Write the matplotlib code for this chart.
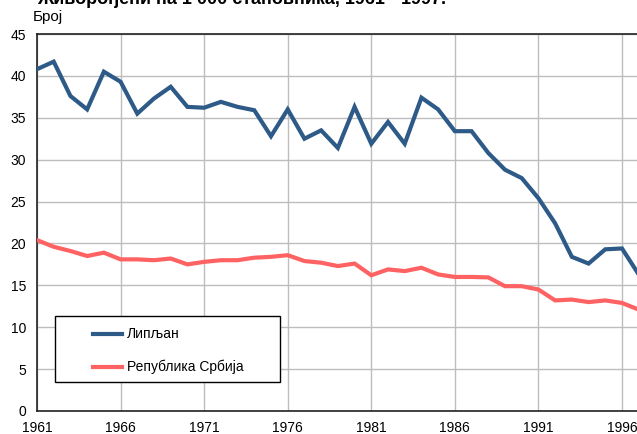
import matplotlib
matplotlib.use("Agg")
import matplotlib.pyplot as plt
from matplotlib.patches import Rectangle
from matplotlib.lines import Line2D

# ── DATA ──────────────────────────────────────────────────────────────────────
years = list(range(1961, 1998))
lipljan = [40.8, 41.7, 37.6, 36.0, 40.5, 39.3, 35.5, 37.3, 38.7, 36.3,
           36.2, 36.9, 36.3, 35.9, 32.8, 36.0, 32.5, 33.5, 31.4, 36.3,
           31.9, 34.5, 31.9, 37.4, 36.0, 33.4, 33.4, 30.8, 28.8, 27.8,
           25.4, 22.4, 18.4, 17.6, 19.3, 19.4, 16.3]
srbija = [20.4, 19.6, 19.1, 18.5, 18.9, 18.1, 18.1, 18.0, 18.2, 17.5,
          17.8, 18.0, 18.0, 18.3, 18.4, 18.6, 17.9, 17.7, 17.3, 17.6,
          16.2, 16.9, 16.7, 17.1, 16.3, 16.0, 16.0, 15.95, 14.9, 14.9,
          14.5, 13.2, 13.3, 13.0, 13.2, 12.9, 12.1]
series_names = ["Липљан", "Република Србија"]
x_ticks = [1961, 1966, 1971, 1976, 1981, 1986, 1991, 1996]
y_ticks = [0, 5, 10, 15, 20, 25, 30, 35, 40, 45]

COLORS = {
    "blue": "#2E5A88",
    "red": "#FF6262",
    "grid": "#BDBDBD",
    "text": "#000000",
}

plt.rcParams["font.family"] = ["Liberation Sans", "DejaVu Sans"]

W, H = 637, 434
fig = plt.figure(figsize=(W / 100, H / 100), dpi=100)


def fx(px):
    return px / W


def fy(py):
    return 1 - py / H


# axes: 1961 at x=37px, 1996 at x=622px; y 0 at 411px, 45 at 34px
px_per_year = (622 - 37) / 35
x0, x1 = 1961, 1998
width = (x1 - x0) * px_per_year / W
ax = fig.add_axes([fx(37), fy(411), width, (411 - 34) / H])

ax.plot(years, lipljan, color=COLORS["blue"], lw=3, solid_joinstyle="miter", zorder=3)
ax.plot(years, srbija, color=COLORS["red"], lw=3, solid_joinstyle="miter", zorder=3)

ax.set_xlim(x0, x1)
ax.set_ylim(0, 45)
ax.set_xticks(x_ticks)
ax.set_yticks(y_ticks)
ax.tick_params(axis="y", length=0, labelsize=10, pad=8)
ax.tick_params(axis="x", length=0, labelsize=10, pad=7)
ax.grid(True, color=COLORS["grid"], lw=1)
ax.set_axisbelow(True)
for side in ["left", "bottom", "top"]:
    ax.spines[side].set_color("#222222")
    ax.spines[side].set_linewidth(1.2)
ax.spines["right"].set_visible(False)

# ── LEGEND (drawn by hand to match the boxed layout) ─────────────────────────
fig.patches.append(Rectangle((fx(55), fy(382)), fx(280) - fx(55), fy(316) - fy(382),
                             transform=fig.transFigure, facecolor="white",
                             edgecolor="black", lw=1.0, zorder=5))
for name, color, py in [(series_names[0], COLORS["blue"], 334),
                        (series_names[1], COLORS["red"], 367)]:
    fig.lines.append(Line2D([fx(93), fx(122)], [fy(py), fy(py)], color=color,
                            lw=3, transform=fig.transFigure, zorder=6))
    fig.text(fx(127), fy(py), name, ha="left", va="center", fontsize=10, zorder=6)

# title (cut off at the top) and unit label
fig.text(fx(37), fy(4), "Живорођени на 1 000 становника, 1961 - 1997.",
         ha="left", va="baseline", fontsize=13, fontweight="bold")
fig.text(fx(33), fy(17), "Број", ha="left", va="center", fontsize=11)

fig.savefig("out.png", dpi=100)
